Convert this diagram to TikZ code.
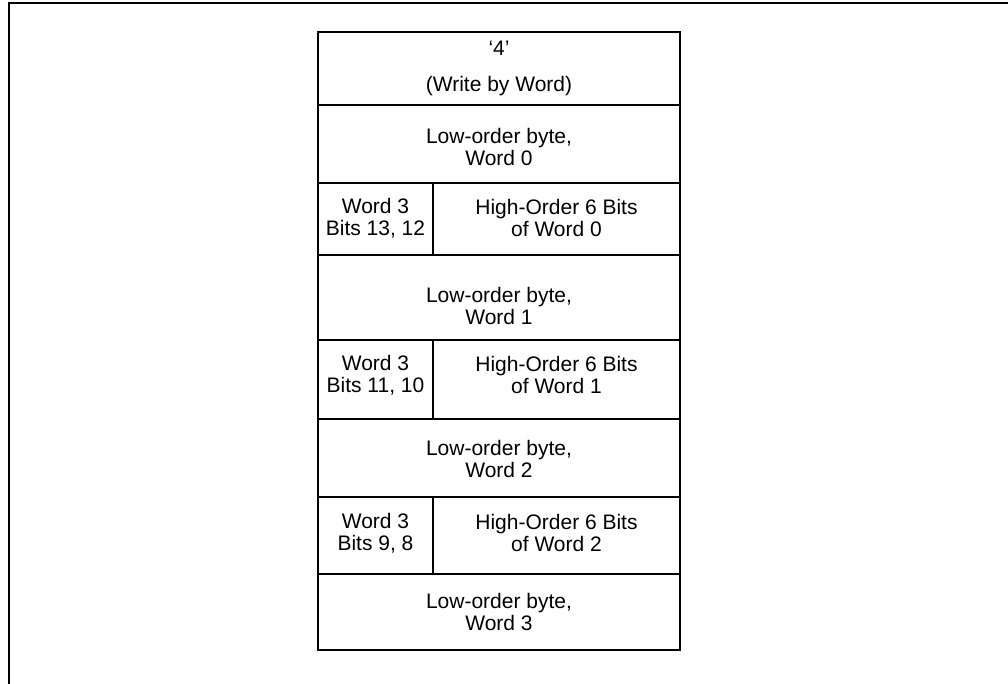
\documentclass[tikz,border=0pt]{standalone}
\usepackage{fontspec}
\setmainfont{Liberation Sans}
\begin{document}
\begin{tikzpicture}[x=1pt,y=-1pt,
  frameline/.style={line width=2.6pt},
  cellline/.style={line width=1.8pt},
  celltext/.style={align=center,font=\fontsize{21}{22}\selectfont,inner sep=0pt}]
\useasboundingbox (0,0) rectangle (1008,684);
% outer frame (open at right and bottom)
\draw[frameline] (9,684) -- (9,3) -- (1008,3);
% table
\def\L{318}\def\R{680}\def\M{433}
\draw[cellline] (\L,32) rectangle (\R,650);
\foreach \yy in {105,183,255,340,419,497,574}
  \draw[cellline] (\L,\yy) -- (\R,\yy);
\draw[cellline] (\M,183) -- (\M,255);
\draw[cellline] (\M,340) -- (\M,419);
\draw[cellline] (\M,497) -- (\M,574);
% texts
\node[celltext,font=\fontsize{21}{36}\selectfont] (r1) at (499,68.5) {‘4’\\(Write by Word)};
\node[celltext] (r2) at (499,147) {Low-order byte,\\Word 0};
\node[celltext] (r3a) at (375.5,218) {Word 3\\Bits 13, 12};
\node[celltext] (r3b) at (556.5,218) {High-Order 6 Bits\\of Word 0};
\node[celltext] (r4) at (499,306) {Low-order byte,\\Word 1};
\node[celltext] (r5a) at (375.5,375) {Word 3\\Bits 11, 10};
\node[celltext] (r5b) at (556.5,375) {High-Order 6 Bits\\of Word 1};
\node[celltext] (r6) at (499,459) {Low-order byte,\\Word 2};
\node[celltext] (r7a) at (375.5,533) {Word 3\\Bits 9, 8};
\node[celltext] (r7b) at (556.5,533) {High-Order 6 Bits\\of Word 2};
\node[celltext] (r8) at (499,612) {Low-order byte,\\Word 3};
\end{tikzpicture}
\end{document}
